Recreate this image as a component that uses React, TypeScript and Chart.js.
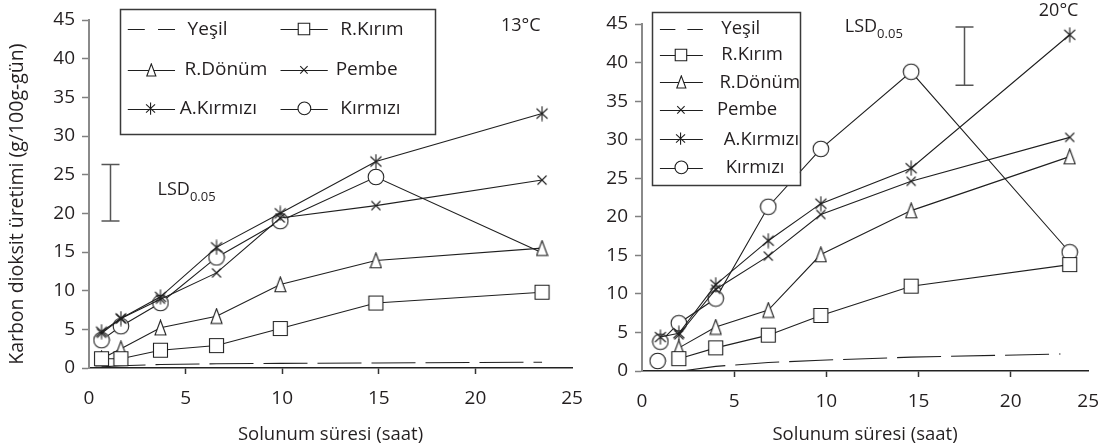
import React, { useEffect, useRef } from 'react';
import { Chart, registerables } from 'chart.js';

Chart.register(...registerables);

// ---------- data ----------
const seriesNames = ['Yeşil', 'R.Kırım', 'R.Dönüm', 'Pembe', 'A.Kırmızı', 'Kırmızı'];
const markerKinds = ['none', 'square', 'triangle', 'cross', 'star', 'circle'];
const xTickLabels = ['0', '5', '10', '15', '20', '25'];

// 13°C panel
const hoursLeft = [0.65, 1.65, 3.7, 6.6, 9.9, 14.85, 23.45];
const yesilLeft = [0.15, 0.3, 0.45, 0.55, 0.6, 0.65, 0.75];
const rKirimLeft = [1.2, 1.2, 2.3, 2.9, 5.1, 8.4, 9.8];
const rDonumLeft = [1.2, 2.5, 5.2, 6.7, 10.8, 13.9, 15.5];
const pembeLeft = [4.5, 6.4, 8.9, 12.3, 19.4, 21.0, 24.3];
const aKirmiziLeft = [4.7, 6.4, 9.2, 15.6, 20.0, 26.7, 32.9];
const kirmiziLeft = [3.6, 5.4, 8.4, 14.3, 19.0, 24.7, 14.9];

// 20°C panel
const hoursRight = [1, 2, 4, 6.85, 9.7, 14.6, 23.2];
const hoursRightFrom2 = [2, 4, 6.85, 9.7, 14.6, 23.2];
const yesilRightHours = [2.15, 4, 6.85, 9.7, 14.6, 22.7];
const yesilRight = [0.0, 0.6, 1.1, 1.4, 1.8, 2.2];
const rKirimRight = [1.6, 3.0, 4.65, 7.2, 11.0, 13.8];
const rDonumRight = [3.0, 5.7, 7.9, 15.1, 20.8, 27.8];
const pembeRight = [4.7, 10.6, 14.9, 20.3, 24.6, 30.3];
const aKirmiziRight = [4.4, 4.9, 11.2, 16.9, 21.7, 26.3, 43.6];
const kirmiziRight = [3.8, 6.2, 9.4, 21.3, 28.8, 38.8, 15.4];
const kirmiziRightStrayHours = [0.85];
const kirmiziRightStray = [1.3];

// LSD bars: [hour, low, high]
const lsdLeft = [1.1, 19.0, 26.3];
const lsdRight = [17.45, 37.05, 44.6];

// ---------- styling ----------
const FONT = '"Open Sans", "DejaVu Sans", sans-serif';
const INK = '#231f20';
const LINE = '#1f1f1f';

function makeMarker(kind: string, s: number): any {
  if (kind === 'none') return false;
  const dims: any = { square: [17, 17], circle: [18, 18], triangle: [13, 17], cross: [12, 12], star: [16, 16] };
  const [w, h] = dims[kind];
  const c = document.createElement('canvas');
  c.width = Math.ceil(w * s);
  c.height = Math.ceil(h * s);
  const g = c.getContext('2d') as CanvasRenderingContext2D;
  g.scale(s, s);
  g.strokeStyle = LINE;
  g.fillStyle = '#ffffff';
  g.lineWidth = 1.1 / s;
  g.beginPath();
  if (kind === 'square') {
    g.rect(1.5, 1.5, 14, 14);
    g.fill();
    g.stroke();
  } else if (kind === 'circle') {
    g.arc(9, 9, 7.8, 0, Math.PI * 2);
    g.fill();
    g.stroke();
  } else if (kind === 'triangle') {
    g.moveTo(6.5, 1);
    g.lineTo(12, 15.8);
    g.lineTo(1, 15.8);
    g.closePath();
    g.fill();
    g.stroke();
  } else if (kind === 'cross') {
    g.moveTo(1.5, 1.5); g.lineTo(10.5, 10.5);
    g.moveTo(10.5, 1.5); g.lineTo(1.5, 10.5);
    g.stroke();
  } else if (kind === 'star') {
    g.moveTo(8, 0.5); g.lineTo(8, 15.5);
    g.moveTo(2.5, 3); g.lineTo(13.5, 13);
    g.moveTo(13.5, 3); g.lineTo(2.5, 13);
    g.stroke();
  }
  return c;
}

const pts = (xs: number[], ys: number[]) => ys.map((v, i) => ({ x: xs[i], y: v }));

const extrasPlugin = {
  id: 'figureExtras',
  afterDatasetsDraw(chart: any, _a: any, opts: any) {
    const { ctx } = chart;
    const px = (v: number) => chart.scales.x.getPixelForValue(v);
    const py = (v: number) => chart.scales.y.getPixelForValue(v);
    ctx.save();

    // LSD bar
    const [lx, lo, hi] = opts.lsd;
    const bx = Math.round(px(lx)) + 0.5;
    ctx.strokeStyle = '#555';
    ctx.lineWidth = 1.5;
    ctx.beginPath();
    ctx.moveTo(bx, py(lo)); ctx.lineTo(bx, py(hi));
    ctx.moveTo(bx - 9, py(lo)); ctx.lineTo(bx + 9, py(lo));
    ctx.moveTo(bx - 9, py(hi)); ctx.lineTo(bx + 9, py(hi));
    ctx.stroke();

    // LSD label
    ctx.fillStyle = INK;
    ctx.textBaseline = 'alphabetic';
    ctx.textAlign = 'left';
    ctx.font = `18px ${FONT}`;
    const tx = px(opts.lsdLabel[0]);
    const ty = py(opts.lsdLabel[1]);
    ctx.fillText('LSD', tx, ty);
    const wLsd = ctx.measureText('LSD').width;
    ctx.font = `13px ${FONT}`;
    ctx.fillText('0.05', tx + wLsd, ty + 6);

    // temperature label
    ctx.font = `18px ${FONT}`;
    ctx.textAlign = 'center';
    ctx.textBaseline = 'middle';
    ctx.fillText(opts.tempText, px(opts.tempPos[0]), py(opts.tempPos[1]));

    // legend box
    const L = opts.legend;
    const x0 = px(L.box[0]), x1 = px(L.box[2]);
    const y0 = py(L.box[1]), y1 = py(L.box[3]);
    const bw = x1 - x0, bh = y1 - y0;
    ctx.fillStyle = '#ffffff';
    ctx.fillRect(x0, y0, bw, bh);
    ctx.strokeStyle = '#3a3a3a';
    ctx.lineWidth = 1.5;
    ctx.strokeRect(Math.round(x0) + 0.5, Math.round(y0) + 0.5, Math.round(bw), Math.round(bh));

    seriesNames.forEach((name, i) => {
      const col = i % L.cols;
      const row = Math.floor(i / L.cols);
      const cy = y0 + bh * L.rows[row];
      const cx = x0 + bw * L.symbolCenters[col];
      const len = bw * L.symbolLen;
      ctx.strokeStyle = LINE;
      ctx.lineWidth = 1.1;
      ctx.beginPath();
      if (markerKinds[i] === 'none') ctx.setLineDash([len * 0.36, len * 0.28]);
      ctx.moveTo(cx - len / 2, Math.round(cy) + 0.5);
      ctx.lineTo(cx + len / 2, Math.round(cy) + 0.5);
      ctx.stroke();
      ctx.setLineDash([]);
      const m = L.markers[i];
      if (m) ctx.drawImage(m, Math.round(cx - m.width / 2), Math.round(cy - m.height / 2));
      ctx.fillStyle = INK;
      ctx.font = `${L.fontSize}px ${FONT}`;
      ctx.textAlign = 'left';
      ctx.textBaseline = 'middle';
      ctx.fillText(name, x0 + bw * L.textX[i], cy);
    });
    ctx.restore();
  },
};

function buildConfig(p: any) {
  const markers = markerKinds.map((k) => makeMarker(k, 1));
  const legendMarkers = markerKinds.map((k) => makeMarker(k, 0.82));
  const datasets: any[] = p.series.map((s: any, i: number) => ({
    label: seriesNames[i],
    data: pts(s.x, s.y),
    borderColor: LINE,
    borderWidth: 1.1,
    borderDash: i === 0 ? [44, 10] : [],
    pointStyle: markers[i],
    pointRadius: i === 0 ? 0 : s.y.map((_: number, j: number) => (s.hideLast && j === s.y.length - 1 ? 0 : 7)),
    pointHoverRadius: 0,
    fill: false,
    tension: 0,
    order: i === 0 ? 10 : 0,
  }));
  if (p.stray) {
    datasets.push({
      label: 'Kırmızı (ek)',
      data: pts(p.stray.x, p.stray.y),
      showLine: false,
      pointStyle: markers[5],
      pointRadius: 7,
      borderColor: LINE,
    });
  }
  const tickFont = { family: FONT, size: 19 };
  return {
    type: 'line',
    data: { datasets },
    plugins: [extrasPlugin],
    options: {
      responsive: false,
      animation: false,
      devicePixelRatio: 1,
      events: [],
      layout: { padding: { top: p.top, right: p.right, left: 0, bottom: 0 } },
      plugins: {
        legend: { display: false },
        tooltip: { enabled: false },
        figureExtras: {
          lsd: p.lsd,
          lsdLabel: p.lsdLabel,
          tempText: p.tempText,
          tempPos: p.tempPos,
          legend: { ...p.legend, markers: legendMarkers },
        },
      },
      scales: {
        x: {
          type: 'linear',
          min: 0,
          max: p.xMax,
          afterBuildTicks: (s: any) => {
            s.ticks = p.xTicks.map((v: number) => ({ value: v }));
          },
          afterFit: (s: any) => {
            s.height = p.xAxisHeight;
          },
          ticks: {
            autoSkip: false,
            maxRotation: 0,
            padding: 13,
            color: INK,
            font: tickFont,
            callback: (_v: any, i: number) => xTickLabels[i],
          },
          grid: {
            drawOnChartArea: false,
            drawTicks: true,
            tickLength: 6,
            tickWidth: 1.5,
            tickColor: (c: any) =>
              c.index === 0 || c.index === p.xTicks.length - 1 ? 'rgba(0,0,0,0)' : '#333',
          },
          border: { display: true, color: '#222', width: 1.5 },
          title: {
            display: true,
            text: 'Solunum süresi (saat)',
            color: INK,
            font: { family: FONT, size: 18.5 },
            padding: { top: 0, bottom: 2 },
          },
        },
        y: {
          type: 'linear',
          min: 0,
          max: 45,
          afterFit: (s: any) => {
            s.width = p.left;
          },
          ticks: { stepSize: 5, padding: 7, color: INK, font: tickFont },
          grid: { drawOnChartArea: false, drawTicks: true, tickLength: 7, tickWidth: 1.5, tickColor: '#808080' },
          border: { display: true, color: '#8a8a8a', width: 2 },
          title: {
            display: p.showYTitle,
            text: 'Karbon dioksit üretimi (g/100g-gün)    ',
            color: INK,
            font: { family: FONT, size: 19.5 },
            padding: { top: 6, bottom: 0 },
          },
        },
      },
    },
  };
}

const leftPanel = {
  offset: 0,
  width: 600,
  left: 89,
  right: 28,
  top: 20,
  xAxisHeight: 80,
  xMax: 25,
  xTicks: [0, 5, 10, 15, 20, 25],
  showYTitle: true,
  series: [
    { x: hoursLeft, y: yesilLeft },
    { x: hoursLeft, y: rKirimLeft },
    { x: hoursLeft, y: rDonumLeft },
    { x: hoursLeft, y: pembeLeft },
    { x: hoursLeft, y: aKirmiziLeft },
    { x: hoursLeft, y: kirmiziLeft, hideLast: true },
  ],
  lsd: lsdLeft,
  lsdLabel: [3.55, 22.4],
  tempText: '13°C',
  tempPos: [22.35, 44.2],
  legend: {
    box: [1.6, 46.4, 17.9, 30.3],
    cols: 2,
    rows: [0.16, 0.485, 0.8],
    symbolCenters: [0.1, 0.585],
    symbolLen: 0.15,
    textX: [0.215, 0.7, 0.205, 0.685, 0.19, 0.7],
    fontSize: 19,
  },
};

const rightPanel = {
  offset: 560,
  width: 552,
  left: 82,
  right: 15,
  top: 24,
  xAxisHeight: 77,
  xMax: 24.2,
  xTicks: [0, 5, 10, 15, 20, 24.2],
  showYTitle: false,
  series: [
    { x: yesilRightHours, y: yesilRight },
    { x: hoursRightFrom2, y: rKirimRight },
    { x: hoursRightFrom2, y: rDonumRight },
    { x: hoursRightFrom2, y: pembeRight },
    { x: hoursRight, y: aKirmiziRight },
    { x: hoursRight, y: kirmiziRight },
  ],
  stray: { x: kirmiziRightStrayHours, y: kirmiziRightStray },
  lsd: lsdRight,
  lsdLabel: [11.0, 44.0],
  tempText: '20°C',
  tempPos: [22.6, 46.7],
  legend: {
    box: [0.53, 46.5, 8.56, 24.1],
    cols: 1,
    rows: [0.095, 0.245, 0.405, 0.566, 0.735, 0.9],
    symbolCenters: [0.2],
    symbolLen: 0.29,
    textX: [0.47, 0.47, 0.457, 0.44, 0.487, 0.5],
    fontSize: 18.5,
  },
};

function Panel({ p }: { p: any }) {
  const ref = useRef<HTMLCanvasElement | null>(null);
  useEffect(() => {
    if (!ref.current) return;
    const chart = new Chart(ref.current, buildConfig(p) as any);
    return () => chart.destroy();
  }, [p]);
  return (
    <canvas
      ref={ref}
      width={p.width}
      height={448}
      style={{ position: 'absolute', left: p.offset, top: 0, width: p.width, height: 448 }}
    />
  );
}

export default function App() {
  return (
    <div
      style={{
        position: 'absolute',
        left: 0,
        top: 0,
        width: 1106,
        height: 448,
        overflow: 'hidden',
        background: '#ffffff',
      }}
    >
      <Panel p={leftPanel} />
      <Panel p={rightPanel} />
    </div>
  );
}
